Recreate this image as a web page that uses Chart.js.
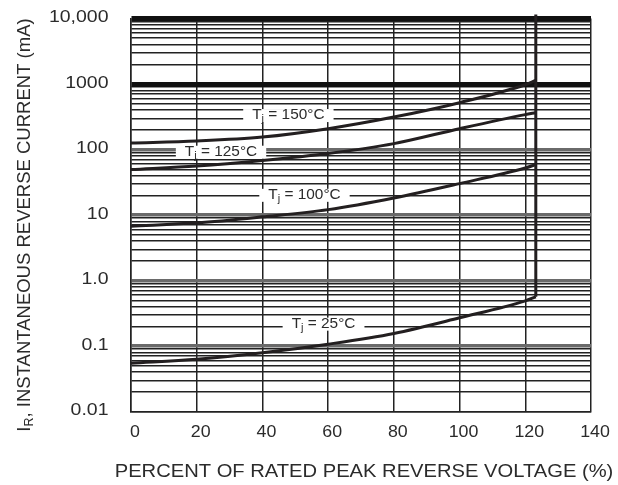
<!DOCTYPE html>
<html><head><meta charset="utf-8">
<script src="https://cdn.jsdelivr.net/npm/chart.js@4.4.1/dist/chart.umd.min.js"></script>
<style>html,body{margin:0;padding:0;background:#fff}#wrap{width:618px;height:485px}canvas{display:block}</style>
</head><body><div id="wrap"><canvas id="c" width="618" height="485"></canvas></div>
<script>
// ---- data ----
const percentRated = [0, 20, 40, 60, 80, 100, 120, 123.2];
const iR150 = [126, 135, 155, 208, 313, 519, 975, 1135];
const iR125 = [49.4, 56, 68, 87, 123, 208, 341, 365];
const iR100 = [6.75, 7.6, 9.4, 12.1, 18.2, 30.2, 52.2, 58.9];
const iR25  = [0.0545, 0.0627, 0.079, 0.107, 0.156, 0.27, 0.49, 0.565];
const limitX = [123.2, 123.2];
const limitY = [0.565, 11500];
const xTickValues = [0, 20, 40, 60, 80, 100, 120, 140];
const yDecades = [0.01, 0.1, 1, 10, 100, 1000, 10000];
const yTickLabels = ['0.01', '0.1', '1.0', '10', '100', '1000', '10,000'];
const curveTemps = ['150°C', '125°C', '100°C', '25°C'];
const xTitle = 'PERCENT OF RATED PEAK REVERSE VOLTAGE (%)';
const yTitleMain = 'I';
const yTitleSub = 'R';
const yTitleRest = ', INSTANTANEOUS REVERSE CURRENT (mA)';

function pts(xs, ys) { return xs.map((x, i) => ({x: x, y: ys[i]})); }

const INK = '#231f20';
const TEXT = '#2b2b2b';
const FONT = '"Liberation Sans", Arial, sans-serif';

function isDecade(v) {
  const l = Math.log10(v);
  return Math.abs(l - Math.round(l)) < 1e-9;
}

const yGridValues = [];
for (let e = -2; e <= 3; e++) {
  for (let k = 1; k <= 9; k++) yGridValues.push(+(k * Math.pow(10, e)).toPrecision(3));
}
yGridValues.push(10000);

function sText(ctx, str, x, y, size, sx, align) {
  ctx.save();
  ctx.font = size + 'px ' + FONT;
  ctx.textBaseline = 'middle';
  ctx.textAlign = 'left';
  const w = ctx.measureText(str).width * sx;
  let x0 = x;
  if (align === 'center') x0 = x - w / 2;
  else if (align === 'right') x0 = x - w;
  ctx.translate(x0, y);
  ctx.scale(sx, 1);
  ctx.fillStyle = TEXT;
  ctx.fillText(str, 0, 0);
  ctx.restore();
  return w;
}

// label anchors (data space) for curve labels
const labelAnchors = [
  {x: 47.9, y: 330},
  {x: 27.4, y: 91},
  {x: 52.8, y: 20},
  {x: 58.6, y: 0.216}
];

const textPlugin = {
  id: 'textPlugin',
  beforeDatasetsDraw(chart) {
    const ctx = chart.ctx;
    const xs = chart.scales.x, ys = chart.scales.y;
    const size = 14, sub = 10, sx = 1.1, pad = 9;
    curveTemps.forEach((t, i) => {
      const cx = xs.getPixelForValue(labelAnchors[i].x);
      const cy = ys.getPixelForValue(labelAnchors[i].y);
      ctx.save();
      ctx.font = size + 'px ' + FONT;
      const wT = ctx.measureText('T').width * sx;
      const wRest = ctx.measureText(' = ' + t).width * sx;
      ctx.font = sub + 'px ' + FONT;
      const wj = ctx.measureText('j').width * sx;
      ctx.restore();
      const total = wT + wj + wRest;
      const left = cx - total / 2;
      ctx.save();
      ctx.fillStyle = '#fff';
      ctx.fillRect(left - pad, cy - 6.5, total + 2 * pad, 13);
      ctx.restore();
      sText(ctx, 'T', left, cy, size, sx, 'left');
      sText(ctx, 'j', left + wT, cy + 4, sub, sx, 'left');
      sText(ctx, ' = ' + t, left + wT + wj, cy, size, sx, 'left');
    });
  },
  afterDraw(chart) {
    const ctx = chart.ctx;
    const xs = chart.scales.x, ys = chart.scales.y;
    // y tick labels
    yDecades.forEach((v, i) => {
      sText(ctx, yTickLabels[i], 108.5, ys.getPixelForValue(v) - 1, 16.5, 1.18, 'right');
    });
    // x tick labels
    xTickValues.forEach(v => {
      sText(ctx, String(v), xs.getPixelForValue(v) + 4, 432, 16.5, 1.08, 'center');
    });
    // x title
    sText(ctx, xTitle, 364, 471.5, 18.5, 1.09, 'center');
    // y title (rotated)
    ctx.save();
    ctx.font = '18.5px ' + FONT;
    const wI = ctx.measureText(yTitleMain).width;
    const wRest = ctx.measureText(yTitleRest).width;
    ctx.font = '12.5px ' + FONT;
    const wR = ctx.measureText(yTitleSub).width;
    ctx.restore();
    const total = wI + wR + wRest;
    const l = -total / 2;
    ctx.save();
    ctx.translate(25, 225);
    ctx.rotate(-Math.PI / 2);
    sText(ctx, yTitleMain, l, 0, 18.5, 1, 'left');
    sText(ctx, yTitleSub, l + wI, 5, 12.5, 1, 'left');
    sText(ctx, yTitleRest, l + wI + wR, 0, 18.5, 1, 'left');
    ctx.restore();
  }
};

const curveStyle = {
  borderColor: INK,
  borderWidth: 3,
  pointRadius: 0,
  fill: false,
  cubicInterpolationMode: 'monotone',
  tension: 0.4
};

new Chart(document.getElementById('c'), {
  type: 'line',
  data: {
    datasets: [
      Object.assign({label: 'Tj = 150°C', data: pts(percentRated, iR150)}, curveStyle),
      Object.assign({label: 'Tj = 125°C', data: pts(percentRated, iR125)}, curveStyle),
      Object.assign({label: 'Tj = 100°C', data: pts(percentRated, iR100)}, curveStyle),
      Object.assign({label: 'Tj = 25°C', data: pts(percentRated, iR25)}, curveStyle),
      Object.assign({label: 'limit', data: pts(limitX, limitY), clip: false}, curveStyle, {borderWidth: 3, cubicInterpolationMode: 'default', tension: 0})
    ]
  },
  options: {
    responsive: false,
    animation: false,
    devicePixelRatio: 1,
    layout: {padding: {left: 0, right: 27, top: 18.5, bottom: 0}},
    plugins: {legend: {display: false}, tooltip: {enabled: false}},
    scales: {
      x: {
        type: 'linear', min: 0, max: 140,
        afterBuildTicks: s => { s.ticks = xTickValues.map(v => ({value: v})); },
        afterFit: s => { s.height = 485 - 411.6; },
        ticks: {display: false},
        grid: {color: '#222', lineWidth: 1.5, drawTicks: false, tickLength: 0},
        border: {display: true, color: '#222', width: 1.5}
      },
      y: {
        type: 'logarithmic', min: 0.01, max: 10000,
        afterBuildTicks: s => { s.ticks = yGridValues.map(v => ({value: v})); },
        afterFit: s => { s.width = 131; },
        ticks: {display: false},
        grid: {
          drawTicks: false, tickLength: 0,
          color: c => {
            const v = c.tick.value;
            if (isDecade(v) && v >= 1000) return '#111';
            if (isDecade(v) && v > 0.01) return '#6a6a6a';
            return '#222';
          },
          lineWidth: c => {
            const v = c.tick.value;
            if (isDecade(v) && v >= 1000) return 5;
            if (isDecade(v) && v > 0.01) return 3.5;
            return 1.5;
          }
        },
        border: {display: true, color: '#222', width: 1.5}
      }
    }
  },
  plugins: [textPlugin]
});
</script>
</body></html>
